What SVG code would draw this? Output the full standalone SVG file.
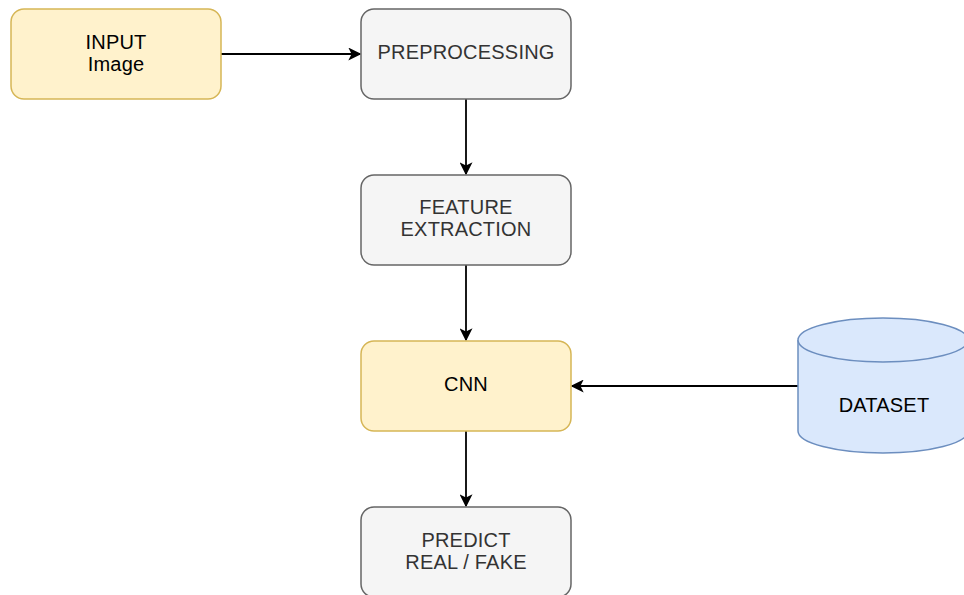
<svg xmlns="http://www.w3.org/2000/svg" width="964" height="595" viewBox="0 0 964 595">
<style>
.y{fill:#fff2cc;stroke:#d6b656;stroke-width:1.5}
.g{fill:#f5f5f5;stroke:#666666;stroke-width:1.5}
.b{fill:#dae8fc;stroke:#6c8ebf;stroke-width:1.5}
text{font-family:"Liberation Sans",Arial,sans-serif;font-size:20px;letter-spacing:0.2px;text-anchor:middle}
.tk{fill:#000000}
.tg{fill:#333333}
.e{stroke:#000000;stroke-width:1.8;fill:none;marker-end:url(#ah)}
</style>
<defs>
<marker id="ah" viewBox="0 0 10 10" refX="9" refY="5" markerWidth="13" markerHeight="13" markerUnits="userSpaceOnUse" orient="auto">
<path d="M0,0 L10,5 L0,10 L2.5,5 Z" fill="#000"/>
</marker>
</defs>
<rect width="964" height="595" fill="#ffffff"/>
<g id="connectors">
<path class="e" d="M221,54 L360,54"/>
<path class="e" d="M466,99 L466,174"/>
<path class="e" d="M466,265 L466,340"/>
<path class="e" d="M466,431 L466,506"/>
<path class="e" d="M798,386 L572,386"/>
</g>
<g id="input">
<rect class="y" x="11" y="9" width="210" height="90" rx="13"/>
<text class="tk" x="116" y="49">INPUT</text>
<text class="tk" x="116" y="71">Image</text>
</g>
<g id="preprocessing">
<rect class="g" x="361" y="9" width="210" height="90" rx="13"/>
<text class="tg" x="466" y="59">PREPROCESSING</text>
</g>
<g id="feature">
<rect class="g" x="361" y="175" width="210" height="90" rx="13"/>
<text class="tg" x="466" y="214">FEATURE</text>
<text class="tg" x="466" y="236">EXTRACTION</text>
</g>
<g id="cnn">
<rect class="y" x="361" y="341" width="210" height="90" rx="13"/>
<text class="tk" x="466" y="391">CNN</text>
</g>
<g id="predict">
<rect class="g" x="361" y="507" width="210" height="90" rx="13"/>
<text class="tg" x="466" y="547">PREDICT</text>
<text class="tg" x="466" y="569">REAL / FAKE</text>
</g>
<g id="dataset">
<path class="b" d="M798,340 A85,22 0 0 1 968,340 L968,431 A85,22 0 0 1 798,431 Z"/>
<path class="b" d="M798,340 A85,22 0 0 0 968,340" fill="none"/>
<text class="tk" x="884" y="412">DATASET</text>
</g>
</svg>
